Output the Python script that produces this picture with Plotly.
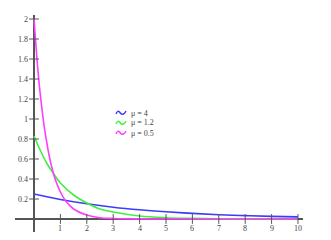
import plotly.graph_objects as go

x_pink = [0, 0.1, 0.2, 0.3, 0.4, 0.5, 0.6, 0.8, 1.0, 1.2, 1.5, 2.0, 2.5, 3.0, 4.0, 6.0, 8.0, 10.0]
y_pink = [2.0, 1.64, 1.34, 1.10, 0.90, 0.74, 0.60, 0.40, 0.27, 0.18, 0.10, 0.04, 0.013, 0.005, 0.001, 0.0, 0.0, 0.0]
x_green = [0, 0.25, 0.5, 0.75, 1.0, 1.5, 2.0, 2.5, 3.0, 4.0, 5.0, 6.0, 7.0, 8.0, 10.0]
y_green = [0.83, 0.68, 0.55, 0.45, 0.36, 0.24, 0.16, 0.10, 0.07, 0.03, 0.013, 0.006, 0.002, 0.001, 0.0]
x_blue = [0, 1, 2, 3, 4, 5, 6, 7, 8, 9, 10]
y_blue = [0.25, 0.195, 0.152, 0.118, 0.092, 0.072, 0.056, 0.043, 0.034, 0.026, 0.021]

series_names = ["μ = 4", "μ = 1.2", "μ = 0.5"]
series_colors = ["#3b3bff", "#3df03d", "#ff3dff"]

x_ticks = [1, 2, 3, 4, 5, 6, 7, 8, 9, 10]
x_tick_labels = ["1", "2", "3", "4", "5", "6", "7", "8", "9", "10"]
y_ticks = [0.2, 0.4, 0.6, 0.8, 1.0, 1.2, 1.4, 1.6, 1.8, 2.0]
y_tick_labels = ["0.2", "0.4", "0.6", "0.8", "1", "1.2", "1.4", "1.6", "1.8", "2"]

fig = go.Figure()
for xs, ys, c in [(x_blue, y_blue, series_colors[0]),
                  (x_green, y_green, series_colors[1]),
                  (x_pink, y_pink, series_colors[2])]:
    fig.add_trace(go.Scatter(x=xs, y=ys, mode="lines", line=dict(color=c, width=1.6, shape="spline"),
                             showlegend=False, hoverinfo="skip"))

# tick marks crossing the axes
fig.add_trace(go.Scatter(x=x_ticks, y=[0]*len(x_ticks), mode="markers",
                         marker=dict(symbol="line-ns", size=7, color="#555", line=dict(color="#555", width=1)),
                         showlegend=False, hoverinfo="skip"))
fig.add_trace(go.Scatter(x=[0]*len(y_ticks), y=y_ticks, mode="markers",
                         marker=dict(symbol="line-ew", size=7, color="#555", line=dict(color="#555", width=1)),
                         showlegend=False, hoverinfo="skip"))

font = dict(family="Liberation Serif, Times New Roman, serif", size=8, color="#444")
ann = []
for v, t in zip(x_ticks, x_tick_labels):
    ann.append(dict(x=v, y=0, xref="x", yref="y", text=t, showarrow=False, yanchor="top", yshift=-3, font=font))
for v, t in zip(y_ticks, y_tick_labels):
    ann.append(dict(x=0, y=v, xref="x", yref="y", text=t, showarrow=False, xanchor="right", xshift=-4, font=font))

# legend (pixel positions converted to paper fractions)
pw, ph = 331 - 15 - 28, 240 - 15 - 8
leg_y = [113, 123, 133]
shapes = []
for name, c, py in zip(series_names, series_colors, leg_y):
    yf = (240 - py - 8) / ph
    ann.append(dict(x=(129 - 15) / pw, y=yf, xref="paper", yref="paper", showarrow=False,
                    xanchor="left", yanchor="middle", text=name,
                    font=dict(family="Liberation Serif, serif", size=8, color="#444")))
    shapes.append(dict(type="path", xref="paper", yref="paper", xsizemode="pixel", ysizemode="pixel",
                       xanchor=(121 - 15) / pw, yanchor=yf,
                       path="M -5 -1 Q -3.5 3 -1.5 1 Q 0.5 -2 2.5 -1 Q 4 0 5 2",
                       line=dict(color=c, width=1.4)))

fig.update_layout(
    width=331, height=240,
    margin=dict(l=15, r=28, t=15, b=8),
    paper_bgcolor="white", plot_bgcolor="white",
    xaxis=dict(range=[-0.72, 10.19], showgrid=False, showticklabels=False, ticks="",
               zeroline=True, zerolinecolor="#555", zerolinewidth=1.5, showline=False),
    yaxis=dict(range=[-0.13, 2.04], showgrid=False, showticklabels=False, ticks="",
               zeroline=True, zerolinecolor="#555", zerolinewidth=1.5, showline=False),
    annotations=ann,
    shapes=shapes,
)
fig.write_html("out.html")
